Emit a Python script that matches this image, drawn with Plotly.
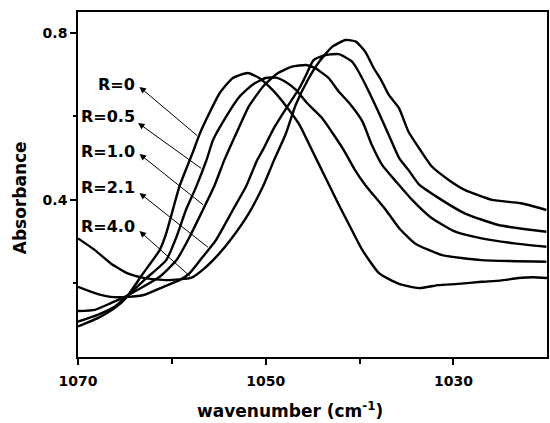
import numpy as np
import plotly.graph_objects as go

# ---- data (wavenumber in cm^-1, absorbance) ----
wn_R0 = [1070.0, 1067.9, 1066.1, 1064.9, 1063.1, 1061.3, 1060.6, 1059.9, 1059.2, 1058.3,
         1057.8, 1057.0, 1056.0, 1054.9, 1053.5, 1051.9, 1050.7, 1049.3, 1047.8, 1046.4,
         1045.0, 1043.6, 1042.2, 1041.1, 1039.7, 1037.9, 1035.8, 1033.7, 1031.6, 1029.5,
         1027.0, 1025.0, 1023.1, 1021.5, 1020.0]
ab_R0 = [0.097, 0.117, 0.141, 0.165, 0.223, 0.280, 0.320, 0.376, 0.432, 0.484,
         0.512, 0.560, 0.608, 0.656, 0.692, 0.704, 0.692, 0.664, 0.624, 0.580,
         0.516, 0.452, 0.388, 0.340, 0.280, 0.224, 0.199, 0.189, 0.196, 0.199,
         0.204, 0.207, 0.213, 0.215, 0.213]

wn_R05 = [1070.0, 1067.9, 1066.1, 1065.0, 1062.8, 1060.6, 1059.5, 1058.5, 1057.4, 1056.3,
          1055.6, 1054.2, 1052.8, 1051.4, 1050.0, 1048.9, 1047.9, 1046.8, 1045.6, 1044.0,
          1042.9, 1041.7, 1040.5, 1039.4, 1037.2, 1035.8, 1034.1, 1031.2, 1027.0, 1020.1]
ab_R05 = [0.109, 0.125, 0.144, 0.165, 0.211, 0.256, 0.312, 0.376, 0.432, 0.496,
          0.544, 0.600, 0.647, 0.676, 0.692, 0.693, 0.683, 0.664, 0.632, 0.596,
          0.561, 0.520, 0.472, 0.436, 0.376, 0.333, 0.296, 0.268, 0.256, 0.252]

wn_R10 = [1070.0, 1068.2, 1066.5, 1065.0, 1061.3, 1059.5, 1058.1, 1056.7, 1055.5, 1054.4,
          1052.8, 1051.8, 1050.3, 1048.8, 1047.2, 1045.7, 1044.7, 1043.3, 1042.2, 1041.1,
          1039.7, 1038.7, 1037.6, 1036.0, 1034.4, 1032.4, 1029.8, 1027.0, 1023.5, 1020.1]
ab_R10 = [0.134, 0.137, 0.153, 0.168, 0.216, 0.256, 0.312, 0.376, 0.432, 0.496,
          0.576, 0.624, 0.671, 0.702, 0.719, 0.723, 0.715, 0.692, 0.659, 0.632,
          0.588, 0.532, 0.484, 0.441, 0.400, 0.358, 0.324, 0.308, 0.296, 0.288]

wn_R21 = [1070.0, 1068.2, 1066.5, 1064.7, 1062.9, 1060.9, 1059.2, 1058.1, 1056.7, 1055.3,
          1053.5, 1052.1, 1050.9, 1050.3, 1049.1, 1047.8, 1046.4, 1045.7, 1044.9, 1043.6,
          1042.2, 1040.8, 1040.1, 1039.0, 1038.0, 1036.9, 1035.8, 1034.8, 1033.7, 1031.6,
          1028.8, 1025.2, 1020.1]
ab_R21 = [0.192, 0.177, 0.168, 0.168, 0.173, 0.192, 0.208, 0.225, 0.264, 0.304,
          0.376, 0.432, 0.496, 0.520, 0.573, 0.620, 0.668, 0.699, 0.735, 0.747,
          0.749, 0.731, 0.707, 0.659, 0.611, 0.556, 0.501, 0.472, 0.438, 0.405,
          0.368, 0.340, 0.324]

wn_R40 = [1070.0, 1068.2, 1066.5, 1064.7, 1062.9, 1060.5, 1057.9, 1056.5, 1055.1, 1053.6,
          1051.8, 1050.3, 1049.1, 1047.9, 1046.8, 1045.4, 1044.3, 1042.9, 1041.5, 1040.4,
          1039.4, 1038.5, 1037.7, 1036.9, 1035.8, 1034.8, 1033.6, 1032.3, 1030.5, 1028.8,
          1025.9, 1022.8, 1020.1]
ab_R40 = [0.308, 0.280, 0.248, 0.224, 0.213, 0.208, 0.214, 0.237, 0.268, 0.309,
          0.368, 0.432, 0.496, 0.556, 0.628, 0.692, 0.731, 0.767, 0.783, 0.779,
          0.755, 0.716, 0.687, 0.652, 0.620, 0.564, 0.522, 0.480, 0.448, 0.424,
          0.400, 0.392, 0.376]

labels = ["R=0", "R=0.5", "R=1.0", "R=2.1", "R=4.0"]
series = [(wn_R0, ab_R0), (wn_R05, ab_R05), (wn_R10, ab_R10), (wn_R21, ab_R21), (wn_R40, ab_R40)]

# wavenumber where each label's leader line meets its curve
leader_wn = [1057.15, 1056.7, 1056.5, 1056.0, 1057.9]

FONT = "DejaVu Sans"

fig = go.Figure()
for (wn, ab), name in zip(series, labels):
    fig.add_trace(go.Scatter(x=wn, y=ab, mode="lines", name=name,
                             line=dict(color="black", width=2.4, shape="spline", smoothing=0.5),
                             showlegend=False))

# label text positions (layout) and arrow tips
label_x = 1063.75
label_y = [0.6754, 0.5988, 0.5150, 0.4287, 0.3353]
tip_x = [1063.45, 1063.6, 1063.45, 1063.45, 1063.45]
tip_y = [0.6707, 0.5844, 0.5102, 0.4168, 0.3257]

for i, name in enumerate(labels):
    wn, ab = series[i]
    cx = leader_wn[i]
    cy = float(np.interp(cx, wn[::-1], ab[::-1]))
    fig.add_annotation(x=tip_x[i], y=tip_y[i], ax=cx, ay=cy, axref="x", ayref="y",
                       xref="x", yref="y", text="", showarrow=True,
                       arrowhead=2, arrowsize=1.3, arrowwidth=1, arrowcolor="black",
                       standoff=0, startstandoff=0)
    fig.add_annotation(x=label_x, y=label_y[i], xref="x", yref="y", text=name,
                       showarrow=False, xanchor="right", yanchor="middle",
                       font=dict(family=FONT, size=16, color="black", weight="bold"))

# axis titles
fig.add_annotation(x=0.452, y=-0.154, xref="paper", yref="paper",
                   text="wavenumber (cm<sup>-1</sup>)", showarrow=False,
                   xanchor="center", yanchor="middle",
                   font=dict(family=FONT, size=17, color="black", weight="bold"))
fig.add_annotation(x=-0.123, y=0.461, xref="paper", yref="paper",
                   text="Absorbance", showarrow=False, textangle=-90,
                   xanchor="center", yanchor="middle",
                   font=dict(family=FONT, size=17, color="black", weight="bold"))

fig.update_layout(
    width=550, height=423,
    margin=dict(l=78, r=1, t=12, b=66),
    paper_bgcolor="white", plot_bgcolor="white",
    font=dict(family=FONT, color="black"),
)
fig.update_xaxes(range=[1070, 1020.03], tickvals=[1070, 1050, 1030],
                 ticks="outside", ticklen=6, tickwidth=1.5, tickcolor="black",
                 minor=dict(tickvals=[1060, 1040], ticks="outside", ticklen=5,
                            tickwidth=1.5, tickcolor="black", showgrid=False),
                 showline=True, linecolor="black", linewidth=1.6, mirror=True,
                 showgrid=False, zeroline=False, ticklabelstandoff=4,
                 tickfont=dict(family=FONT, size=14, color="black", weight="bold"))
fig.update_yaxes(range=[0.024, 0.850], tickvals=[0.4, 0.8], ticktext=["0.4", "0.8"],
                 ticks="outside", ticklen=6, tickwidth=1.5, tickcolor="black",
                 minor=dict(tickvals=[0.2, 0.6], ticks="outside", ticklen=3,
                            tickwidth=1.5, tickcolor="black", showgrid=False),
                 showline=True, linecolor="black", linewidth=1.6, mirror=True,
                 showgrid=False, zeroline=False,
                 tickfont=dict(family=FONT, size=14, color="black", weight="bold"))

fig.write_html("out.html", config={"displayModeBar": False},
               post_script="document.body.style.margin='0';document.body.style.overflow='hidden';")
